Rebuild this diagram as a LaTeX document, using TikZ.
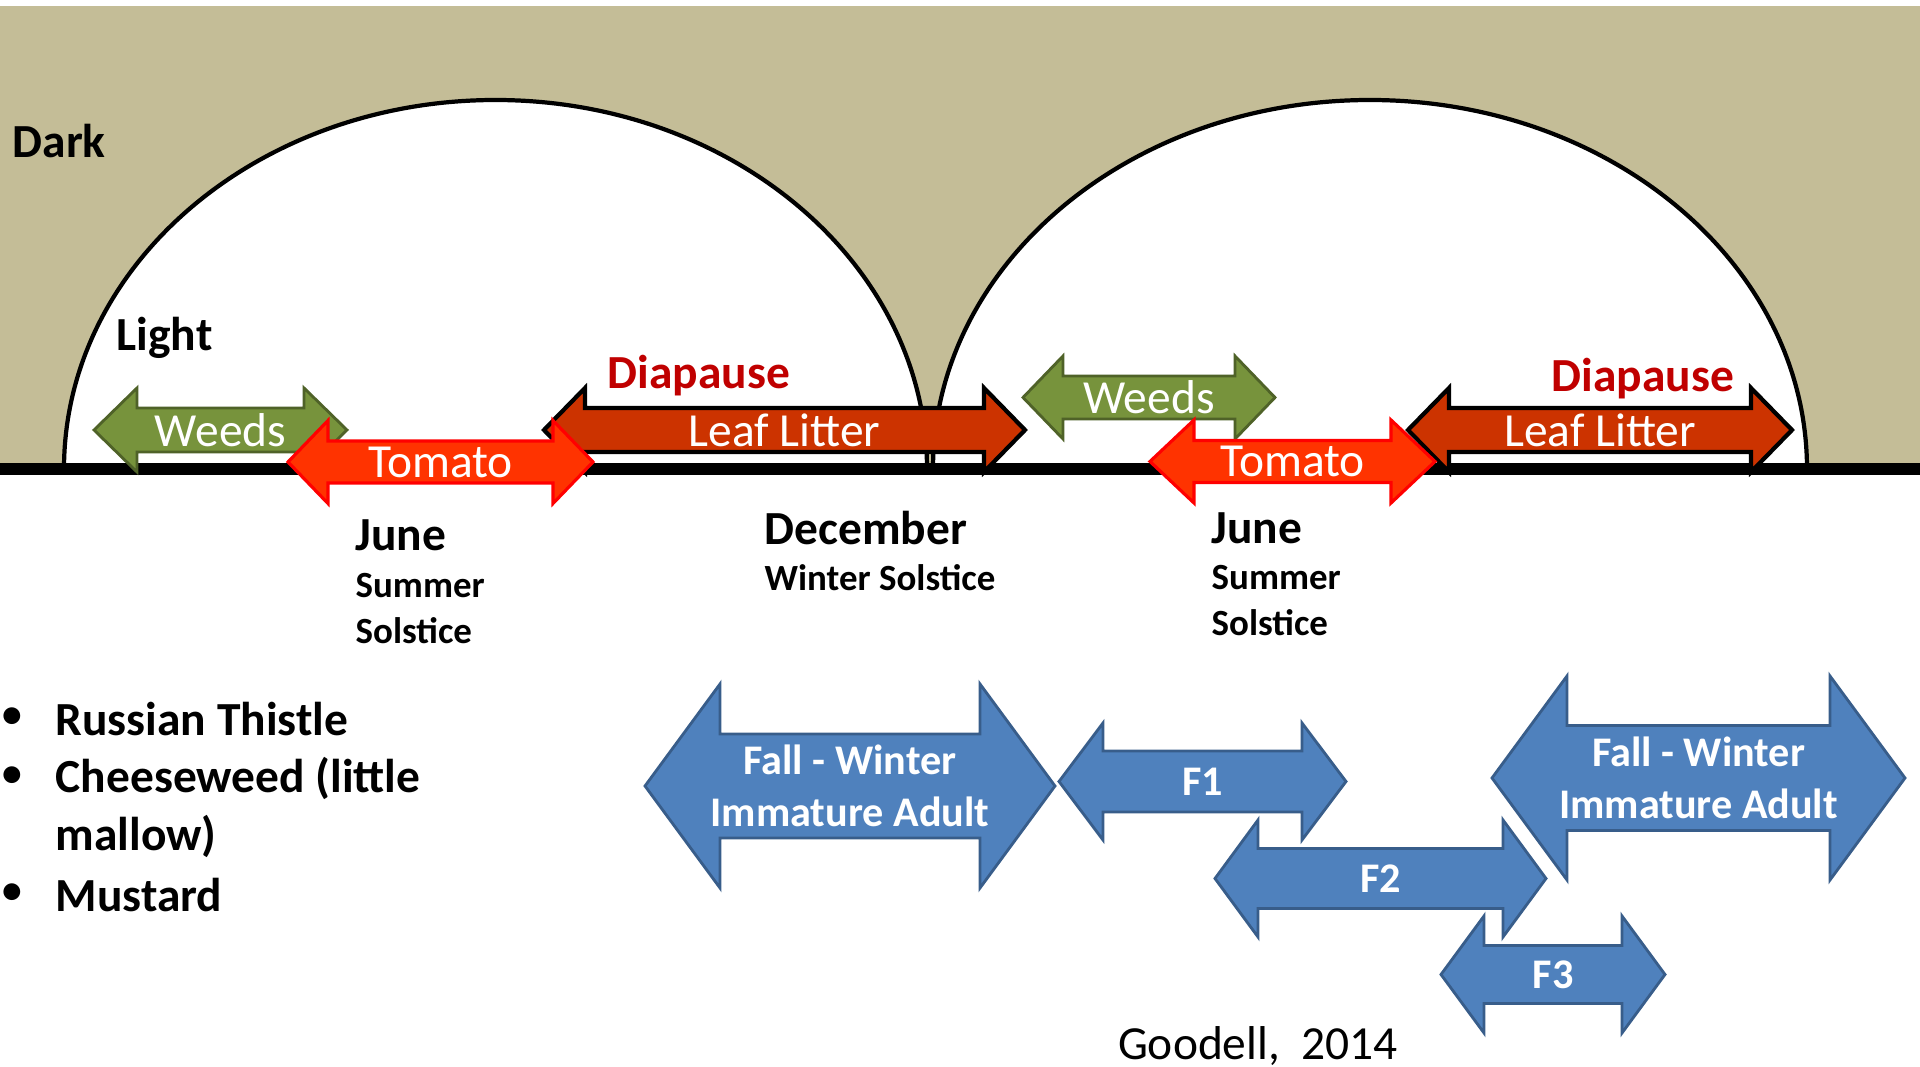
\documentclass[tikz,border=0pt]{standalone}
\usepackage{fontspec}
\setmainfont{Carlito}
\usetikzlibrary{positioning}
\definecolor{darktan}{HTML}{C4BD97}
\definecolor{weedgreen}{HTML}{77933C}
\definecolor{weedline}{HTML}{4F6228}
\definecolor{litterred}{HTML}{CC3300}
\definecolor{tomatored}{HTML}{FF3300}
\definecolor{stageblue}{HTML}{4F81BD}
\definecolor{stageline}{HTML}{385D8A}
\definecolor{diapred}{HTML}{C00000}
\tikzset{
  big/.style={font=\fontsize{13.5}{16}\selectfont\bfseries},
  small/.style={font=\fontsize{10.5}{13}\selectfont\bfseries},
  dot/.style={font=\fontsize{13.5}{16}\selectfont,anchor=west},
  arch/.style={fill=white,draw=black,line width=1.2pt},
  weeds/.style={fill=weedgreen,draw=weedline,line width=0.8pt},
  tomato/.style={fill=tomatored,draw=red,line width=0.9pt},
  litter/.style={fill=litterred,draw=black,line width=1.2pt},
  stage/.style={fill=stageblue,draw=stageline,line width=0.8pt},
  arrtext/.style={text=white,font=\fontsize{13.5}{16}\selectfont},
  weeds label/.style={arrtext},
  tomato label/.style={arrtext},
  litter label/.style={arrtext},
  stage label/.style={text=white,align=center,font=\fontsize{12}{14.8}\selectfont\bfseries},
  diap/.style={text=diapred,font=\fontsize{13.5}{16}\selectfont\bfseries}
}
% #1 style, #2 name, #3/#4 tips, #5 mid y, #6 head half, #7 shaft half, #8 head length, #9 text
\newcommand{\twoway}[9]{%
  \draw[#1] (#3,#5) -- ({#3+#8},{#5-#6}) -- ({#3+#8},{#5-#7}) -- ({#4-#8},{#5-#7})
    -- ({#4-#8},{#5-#6}) -- (#4,#5) -- ({#4-#8},{#5+#6}) -- ({#4-#8},{#5+#7})
    -- ({#3+#8},{#5+#7}) -- ({#3+#8},{#5+#6}) -- cycle;
  \node[#1 label] (#2) at ({(#3+#4)/2},#5) {#9};
}

\begin{document}
\begin{tikzpicture}[x=0.01cm,y=-0.01cm,every node/.style={inner sep=0pt}]
\useasboundingbox (0,0) rectangle (1920,1067);
% dark sky and day length
\fill[darktan] (0,6) rectangle (1920,469);
\draw[arch] (64,469) arc[start angle=180,end angle=360,x radius=431.5,y radius=369];
\draw[arch] (933,469) arc[start angle=180,end angle=360,x radius=437,y radius=369];
\draw[line width=3.4pt] (0,469) -- (1920,469);

% host plants
\twoway{weeds}{w1}{94}{347}{430}{42}{22}{43}{Weeds}
\twoway{litter}{l1}{544}{1025}{430}{42}{22}{41}{Leaf Litter}
\twoway{tomato}{t1}{288}{593}{462}{41.5}{21}{40}{Tomato}
\twoway{weeds}{w2}{1023}{1275}{397.5}{41.5}{21.5}{40}{Weeds}
\twoway{litter}{l2}{1408}{1792}{430}{42}{22}{41}{Leaf Litter}
\twoway{tomato}{t2}{1150}{1435}{461.5}{41.5}{21}{44}{Tomato}

% generations
\twoway{stage}{fw1}{645}{1055}{786}{102}{52}{75}{Fall - Winter\\Immature Adult}
\twoway{stage}{f1}{1059}{1346}{781.5}{58.5}{30.5}{44}{F1}
\twoway{stage}{f3}{1441}{1665}{974.5}{58.5}{29}{43}{F3}
\twoway{stage}{f2}{1215}{1546}{878.5}{58.5}{30}{43}{F2}
\twoway{stage}{fw2}{1492}{1905}{778}{102}{52.5}{75}{Fall - Winter\\Immature Adult}

\node[big,anchor=west] (dark) at (12,141) {Dark};
\node[big,anchor=west] (light) at (116,338) {Light};
\node[diap] (diap1) at (699,376) {Diapause};
\node[diap] (diap2) at (1643,379) {Diapause};

\node[big,anchor=west] (jun1) at (355,535) {June};
\node[small,anchor=west] (sum1) at (355,586) {Summer};
\node[small,anchor=west] (sol1) at (355,631) {Solstice};
\node[big,anchor=west] (dec) at (764,528) {December};
\node[small,anchor=west] (win) at (764,578) {Winter Solstice};
\node[big,anchor=west] (jun2) at (1211,528) {June};
\node[small,anchor=west] (sum2) at (1211,578) {Summer};
\node[small,anchor=west] (sol2) at (1211,623) {Solstice};

% weed hosts
\node[dot] (b1) at (0,719) {\textbullet};
\node[big,anchor=west] (thistle) at (55,719) {Russian Thistle};
\node[dot] (b2) at (0,778) {\textbullet};
\node[big,anchor=west] (cheese) at (55,778) {Cheeseweed (little};
\node[big,anchor=west] (mallow) at (55,836) {mallow)};
\node[dot] (b3) at (0,895) {\textbullet};
\node[big,anchor=west] (mustard) at (55,895) {Mustard};

\node[font=\fontsize{13.5}{16}\selectfont] (cite) at (1258,1046) {Goodell,~~2014};
\end{tikzpicture}
\end{document}
